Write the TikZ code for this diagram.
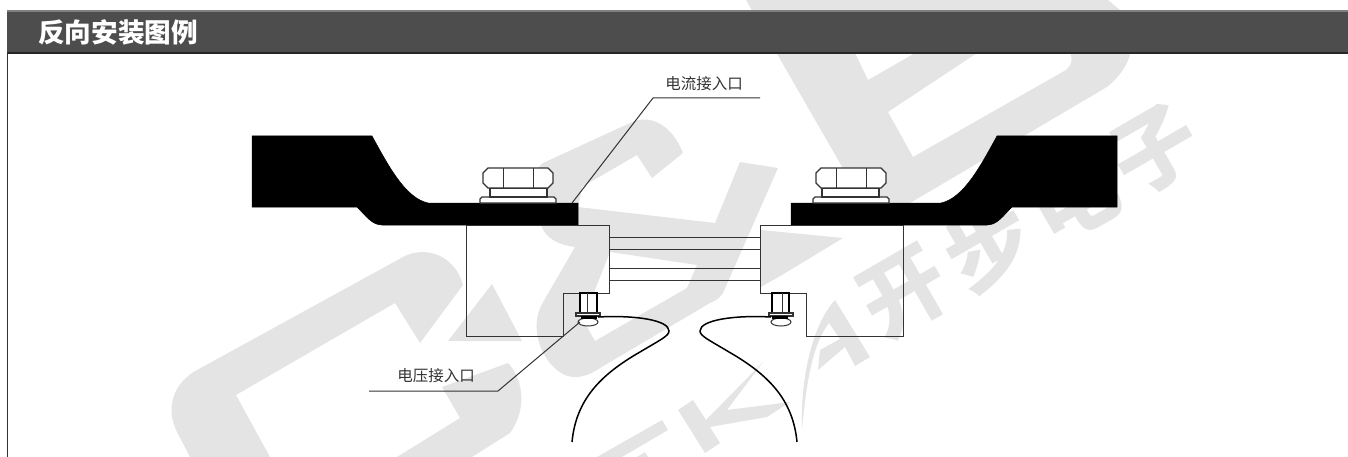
\documentclass[tikz,border=0pt]{standalone}
\usepackage{fontspec}
\newfontfamily\cjk{Noto Sans CJK SC}
\usepackage{xcolor}
\definecolor{HEADCOLOR}{HTML}{4D4D4D}
\definecolor{MARKCOLOR}{HTML}{E4E4E4}
\definecolor{LINECOLOR}{HTML}{333333}
\usepackage{tikz}
\usetikzlibrary{positioning,calc}
\tikzset{
  mark-style/.style = {
    fill=MARKCOLOR, draw=none
  },
  lead-style/.style = {
    fill=black, draw=black, line width=0.5pt
  },
  line-style/.style = {
    draw=LINECOLOR, line width=1pt
  },
  nut-style/.style = {
    draw=LINECOLOR, line width=1.1pt, fill=white
  },
  screw-style/.style = {
    draw=black, line width=1.7pt, fill=white
  },
  wire-style/.style = {
    draw=black, line width=1.5pt
  },
  leader-style/.style = {
    draw=LINECOLOR, line width=1pt
  },
  label-style/.style = {
    font=\cjk\fontsize{15.5}{16}\selectfont, text=LINECOLOR, inner sep=0pt
  },
  title-style/.style = {
    font=\cjk\bfseries\fontsize{26.6}{28}\selectfont, text=white, inner sep=0pt
  },
  brand-style/.style = {
    font=\cjk\bfseries\fontsize{86}{88}\selectfont, text=MARKCOLOR, inner sep=0pt, rotate=30
  }
}
\newcommand\makeTerminal{
  % copper lead
  \path[lead-style] (252,136) -- (372,136) .. controls (388,165) and (405,198) .. (428,203)
    -- (578,203) -- (578,225) -- (382,225) .. controls (372,225) and (366,216) .. (357,207)
    -- (252,207) -- cycle;
  % nut
  \path[nut-style] (480,203) -- (480,199) -- (482,197) -- (554,197) -- (556,199) -- (556,203) -- cycle;
  \path[nut-style] (490,188) rectangle (547,197);
  \path[nut-style] (488,168) -- (548,168) -- (553,173) -- (553,183) -- (548,188) -- (488,188)
    -- (483,183) -- (483,173) -- cycle;
  \draw[line-style] (503,168) -- (503,188) (533,168) -- (533,188);
  % clamp block
  \draw[line-style] (466,225) -- (609,225) -- (609,293) -- (563,293) -- (563,336) -- (466,336) -- cycle;
  % voltage screw
  \path[screw-style] (580,293) rectangle (597,313);
  \draw[line-style] (587,293) -- (587,313);
  \path[line-style, fill=white] (588,322) ellipse (10 and 4);
  \path[nut-style] (576,313) rectangle (600,316);
  \fill[black] (581,316) rectangle (597,319);
  % sense wire
  \draw[wire-style] (598,317) .. controls (635,315) and (669,320) .. (669,331)
    .. controls (669,336) and (660,340) .. (640,352)
    .. controls (600,375) and (576,400) .. (572,442);
}
\begin{document}
\begin{tikzpicture}[x=1pt,y=-1pt]
  \useasboundingbox (0,0) rectangle (1348,457);

  % watermark
  \path[mark-style] (190,457) -- (176,430) .. controls (165,405) and (175,382) .. (197,370)
    -- (403,257) .. controls (425,245) and (455,255) .. (463,285) -- (420,343) -- (395,303)
    -- (236,395) -- (270,457) -- cycle;
  \path[mark-style] (397,457) -- (460,418) -- (442,387) -- (508,363)
    .. controls (520,375) and (530,405) .. (510,433) -- (472,457) -- cycle;
  \path[mark-style] (492,284) -- (448,341) -- (522,341) -- cycle;
  \path[mark-style, even odd rule] (543,163) -- (630,123) .. controls (650,113) and (672,125) .. (683,153)
    -- (652,178) -- (637,155) -- (582,187) -- (578,207) -- (715,223) -- (740,162) -- (778,168)
    -- (723,293) .. controls (719,299) and (715,301) .. (710,303) -- (600,368)
    .. controls (575,385) and (560,375) .. (550,363) .. controls (535,345) and (533,320) .. (542,304)
    -- (575,247) .. controls (560,245) and (545,240) .. (540,222) -- (532,193)
    .. controls (530,180) and (535,170) .. (543,163) -- cycle
    (610,252) -- (697,265) -- (687,288) -- (595,341) -- (583,320) -- cycle;
  \path[mark-style] (761,230) -- (843,238) -- (782,275) -- (761,287) -- cycle;
  \path[mark-style, even odd rule] (746,0) -- (1108,0) -- (1120,10) .. controls (1135,30) and (1140,60) .. (1107,87)
    -- (910,203) -- (875,224) -- cycle
    (855,53) -- (868,80) -- (915,53) -- cycle
    (977,53) -- (888,112) -- (913,157) -- (1066,70) .. controls (1072,66) and (1073,58) .. (1070,53) -- cycle;
  \path[mark-style] (802,430) .. controls (800,380) and (812,325) .. (835,300) -- (870,357) -- (855,366)
    -- (845,347) -- (818,370) -- (820,350) -- (840,339) -- (829,323)
    .. controls (812,345) and (806,385) .. (802,430) -- cycle;
  \path[mark-style] (678,410) -- (693,400) -- (706,420) -- (763,362) -- (727,410) -- (790,402)
    -- (767,417) -- (710,427) -- (720,443) -- (705,453) -- cycle;
  \path[mark-style] (597,457) -- (662,420) -- (668,430) -- (622,457) -- cycle;
  \path[mark-style] (637,457) -- (645,452) -- (648,457) -- cycle;
  \node[brand-style] (brand-a) at (905,293) {开};
  \node[brand-style] (brand-b) at (988,245) {步};
  \node[brand-style] (brand-c) at (1072,197) {电};
  \node[brand-style] (brand-d) at (1155,150) {子};

  % title bar
  \fill[HEADCOLOR] (7,11) rectangle (1348,53);
  \fill[black!85] (7,52) rectangle (1348,54);
  \fill[black!50] (7,10.5) rectangle (1348,12);
  \draw[LINECOLOR, line width=1pt] (7.5,53) -- (7.5,457);
  \node[title-style, anchor=west] (title) at (38,32) {反向安装图例};

  \makeTerminal
  \begin{scope}[xshift=1369pt, xscale=-1]
    \makeTerminal
  \end{scope}

  % busbars
  \foreach \busY in {237,249,268,280} {
    \draw[line-style] (609,\busY) -- (760,\busY);
  }

  % labels
  \coordinate (current-tip) at (572,203);
  \coordinate (current-knee) at (653,98);
  \coordinate (current-end) at (760,98);
  \node[label-style] (current-label) at (704,84) {电流接入口};
  \draw[leader-style] (current-tip) -- (current-knee) -- (current-end);

  \coordinate (voltage-tip) at (580,322);
  \coordinate (voltage-knee) at (498,391);
  \coordinate (voltage-end) at (369,391);
  \node[label-style] (voltage-label) at (436,376) {电压接入口};
  \draw[leader-style] (voltage-tip) -- (voltage-knee) -- (voltage-end);
\end{tikzpicture}
\end{document}
